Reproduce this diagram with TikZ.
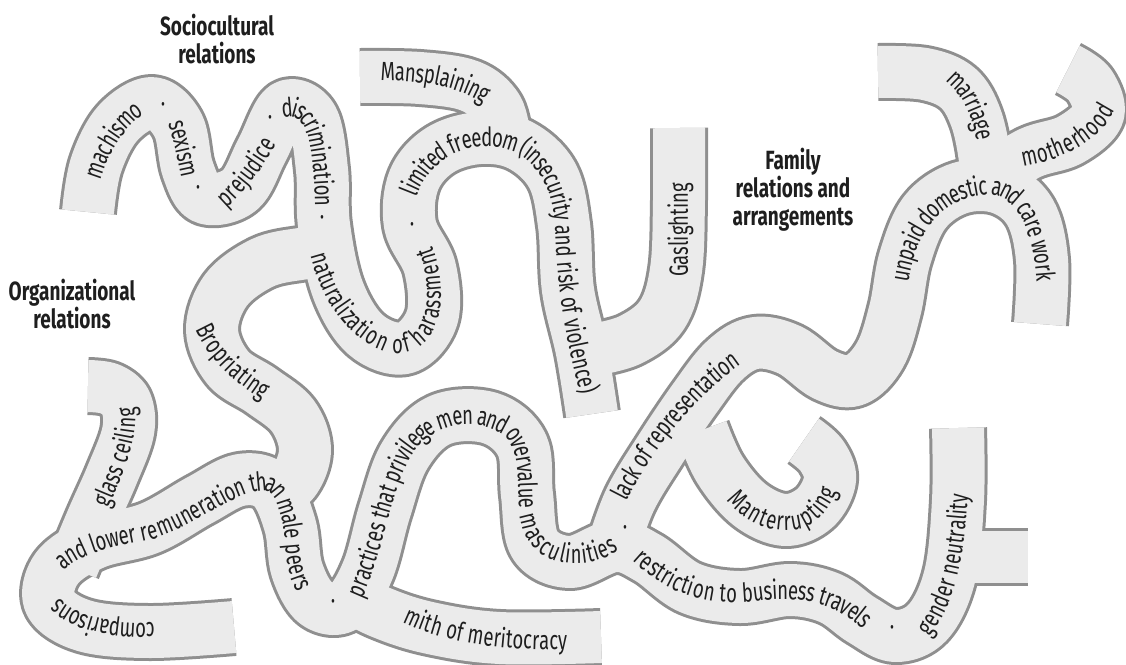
\documentclass[tikz,border=0pt]{standalone}
\usepackage{fontspec}
\setmainfont{Fira Sans}[FakeStretch=0.70]
\newfontfamily\headfont{Fira Sans}[FakeStretch=0.72]
\usetikzlibrary{decorations.text}

\definecolor{bandfill}{HTML}{EBEBEB}
\definecolor{bandline}{HTML}{8F8F8F}
\definecolor{ink}{HTML}{1E1E1E}

% centre lines of the ribbons (pixel grid, y downwards)
\newcommand\pSocio{plot[smooth, tension=0.6] coordinates {(88,212) (96,165) (118,123) (152,103) (178,125) (188,170) (205,198) (240,190) (262,150) (285,107) (312,118) (322,170) (324,225) (338,290) (366,335) (405,348) (432,318) (430,268) (410,225) (414,180) (440,150) (480,138) (520,145) (552,175) (564,225) (568,290) (582,352) (592,414)}}
\newcommand\pMans{plot[smooth, tension=0.6] coordinates {(360,77) (420,78) (470,86) (497,108) (505,140)}}
\newcommand\pGas{plot[smooth, tension=0.6] coordinates {(679,128) (679,200) (676,270) (662,315) (630,340) (592,350)}}
\newcommand\pBro{plot[smooth, tension=0.6] coordinates {(330,252) (300,254) (262,263) (226,290) (212,330) (228,368) (262,391) (293,416) (305,450) (293,482) (268,495)}}
\newcommand\pComp{plot[smooth, tension=0.6] coordinates {(234,627) (150,632) (85,626) (50,603) (57,568) (95,543) (150,528) (200,500) (240,480) (272,487) (290,525) (297,570) (316,603) (345,606) (368,570) (385,510) (405,455) (440,420) (490,418) (522,445) (527,495) (535,545) (570,562) (615,546) (648,558) (690,588) (740,597) (790,590) (830,598) (862,620) (895,636) (928,622) (950,575) (958,500) (958,428)}}
\newcommand\pMerit{plot[smooth, tension=0.6] coordinates {(338,590) (380,612) (430,628) (500,638) (601,637)}}
\newcommand\pRep{plot[smooth, tension=0.6] coordinates {(612,550) (630,500) (660,450) (695,398) (725,360) (755,343) (790,350) (825,375) (855,380) (880,355) (895,310) (905,258) (925,212) (960,188) (1000,188) (1030,212) (1042,260) (1040,324)}}
\newcommand\pMarr{plot[smooth, tension=0.6] coordinates {(878,72) (925,74) (958,88) (976,118) (985,160) (985,185)}}
\newcommand\pMoth{plot[smooth, tension=0.6] coordinates {(990,178) (1030,153) (1070,140) (1098,115) (1090,85) (1068,69)}}
\newcommand\pMant{plot[smooth, tension=0.6] coordinates {(702,430) (720,470) (750,505) (785,520) (815,508) (830,480) (822,456) (804,440)}}
\newcommand\pGlass{plot[smooth, tension=0.6] coordinates {(72,568) (92,520) (112,475) (128,432) (126,403) (110,389) (88,386)}}
\newcommand\pStub{plot coordinates {(950,557) (1028,557)}}

\tikzset{
  bandedge/.style={draw=bandline, line width=1.16cm, line cap=butt, line join=round},
  bandbody/.style={draw=bandfill, line width=1.04cm, line cap=butt, line join=round},
  lbl/.style={decorate, decoration={text along path, text={#1}, text align=center, raise=-5pt, text color=ink}},
  sep/.style={text=ink, inner sep=0pt},
  head/.style={font=\headfont\bfseries, align=center, text=ink},
}

\begin{document}
\fontsize{15pt}{16pt}\selectfont
\begin{tikzpicture}[x=0.02cm, y=-0.02cm]
\useasboundingbox (0,0) rectangle (1126,664);

% ribbons: edges first, then the bodies on top
\foreach \r in {\pSocio,\pMans,\pGas,\pBro,\pComp,\pMerit,\pRep,\pMarr,\pMoth,\pMant,\pGlass,\pStub}
  \draw[bandedge] \r;
\foreach \r in {\pSocio,\pMans,\pGas,\pBro,\pComp,\pMerit,\pRep,\pMarr,\pMoth,\pMant,\pGlass,\pStub}
  \draw[bandbody] \r;

% headings
\node[head] (socio) at (217,39) {Sociocultural\\relations};
\node[head] (orga) at (72,304) {Organizational\\relations};
\node[head] (family) at (793,190) {Family\\relations and\\arrangements};

% sociocultural
\path[lbl={machismo}] (88,198) .. controls (96,150) and (125,104) .. (160,101);
\path[lbl={sexism}] (170,105) .. controls (182,130) and (187,165) .. (194,193);
\path[lbl={prejudice}] (203,213) .. controls (232,200) and (262,155) .. (279,121);
\path[lbl={discrimination}] (270,116) .. controls (288,100) and (312,108) .. (318,140)
  .. controls (323,165) and (324,195) .. (324,220);
\path[lbl={naturalization of harassment}] (313,220) .. controls (318,270) and (340,320) .. (380,340)
  .. controls (405,352) and (430,340) .. (432,300) .. controls (434,265) and (420,240) .. (410,218);
\path[lbl={limited freedom (insecurity and risk of violence)}] (402,230) .. controls (402,185) and (430,142) .. (480,138)
  .. controls (530,134) and (562,170) .. (564,230) .. controls (566,300) and (580,370) .. (600,428);
\path[lbl={Mansplaining}] (368,72) .. controls (420,70) and (470,78) .. (498,104);
\path[lbl={Gaslighting}] (679,290) -- (679,170);
\node[sep] (s1) at (163,107) {·};
\node[sep] (s2) at (198,190) {·};
\node[sep] (s3) at (270,120) {·};
\node[sep] (s4) at (322,220) {·};
\node[sep] (s5) at (412,227) {·};

% organizational
\path[lbl={Bropriating}] (197,306) .. controls (205,345) and (240,380) .. (285,402);
\path[lbl={glass ceiling}] (92,525) .. controls (115,470) and (140,420) .. (118,388);
\path[lbl={comparisons}] (168,631) .. controls (120,634) and (70,630) .. (45,595);
\path[lbl={and lower remuneration than male peers}] (44,590) .. controls (50,555) and (90,542) .. (140,533)
  .. controls (185,525) and (225,485) .. (262,482) .. controls (285,480) and (292,515) .. (294,545)
  .. controls (296,580) and (310,605) .. (328,608);
\path[lbl={practices that privilege men and overvalue masculinities}] (343,614) .. controls (370,580) and (380,490) .. (405,450)
  .. controls (425,418) and (470,405) .. (505,425) .. controls (530,440) and (526,480) .. (528,510)
  .. controls (530,560) and (590,570) .. (632,530);
\path[lbl={mith of meritocracy}] (380,598) .. controls (420,630) and (490,645) .. (598,640);
\path[lbl={restriction to business travels}] (622,538) .. controls (660,580) and (700,600) .. (760,592)
  .. controls (810,585) and (855,600) .. (884,640);
\path[lbl={gender neutrality}] (900,650) .. controls (945,625) and (958,560) .. (960,465);
\path[lbl={lack of representation}] (605,528) .. controls (630,460) and (700,370) .. (765,341);
\path[lbl={Manterrupting}] (716,466) .. controls (735,510) and (770,528) .. (800,520)
  .. controls (822,513) and (834,485) .. (833,455);
\node[sep] (s6) at (333,604) {·};
\node[sep] (s7) at (625,530) {·};
\node[sep] (s8) at (892,630) {·};

% family
\path[lbl={unpaid domestic and care work}] (898,302) .. controls (900,240) and (930,190) .. (985,186)
  .. controls (1030,183) and (1046,240) .. (1046,302);
\path[lbl={marriage}] (942,69) .. controls (965,78) and (982,110) .. (987,150);
\path[lbl={motherhood}] (1005,160) .. controls (1050,155) and (1100,140) .. (1113,90);
\end{tikzpicture}
\end{document}
